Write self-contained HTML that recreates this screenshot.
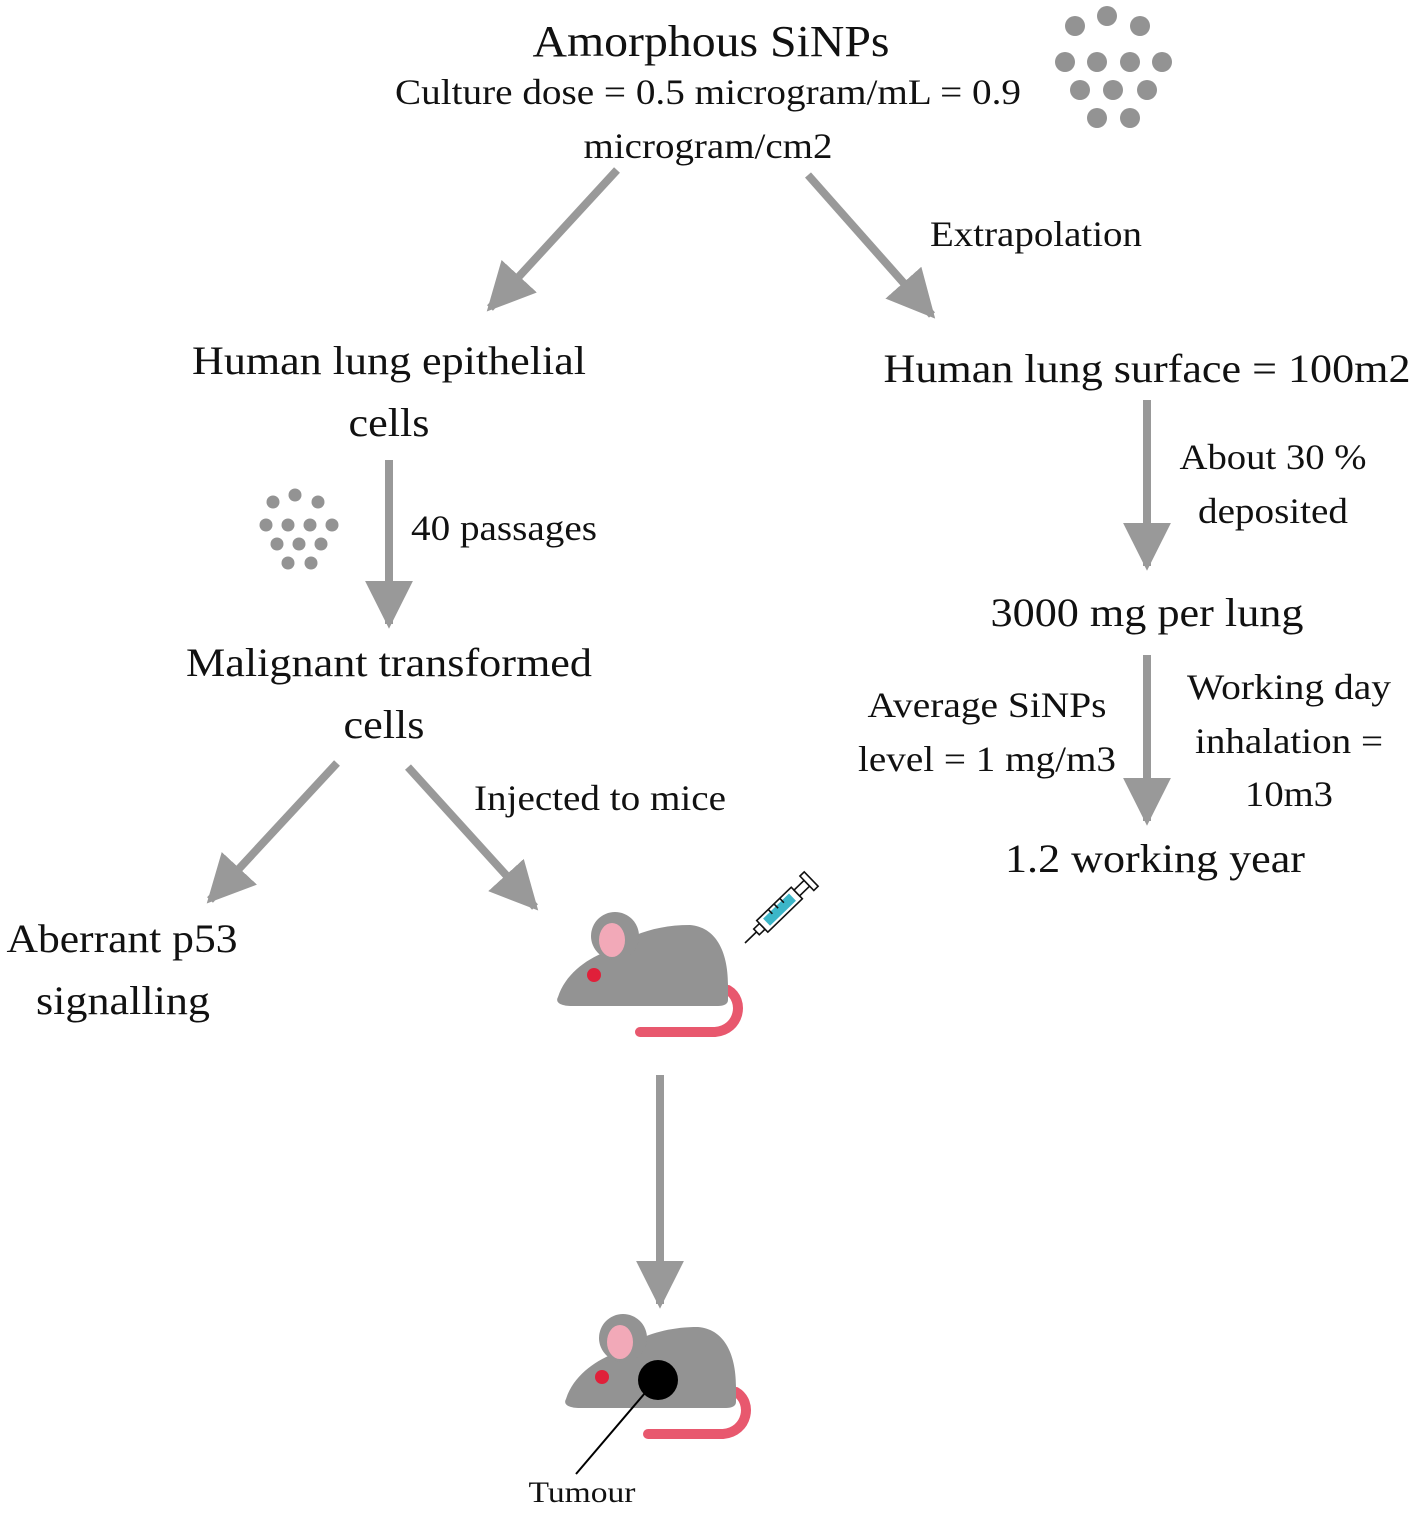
<!DOCTYPE html>
<html><head><meta charset="utf-8"><style>
html,body{margin:0;padding:0;background:#fff}
svg text{font-family:"Liberation Serif",serif;fill:#111}
</style></head><body>
<svg width="1417" height="1509" viewBox="0 0 1417 1509" xmlns="http://www.w3.org/2000/svg">
<defs>
<marker id="ah" viewBox="0 0 10 10" refX="9" refY="5" markerWidth="6" markerHeight="6" markerUnits="strokeWidth" orient="auto">
<path d="M0,0 L10,5 L0,10 z" fill="#999"/></marker>
<g id="mouse">
<path d="M728,990 C745,1000 740,1030 715,1032 L640,1032" fill="none" stroke="#e8586e" stroke-width="10" stroke-linecap="round"/>
<path d="M558,997 C565,975 585,960 605,952 C630,935 655,925 690,925 C715,927 728,950 728,985 L728,1000 C728,1004 724,1006 718,1006 L572,1006 C560,1006 555,1002 558,997 Z" fill="#939393"/>
<circle cx="615" cy="936" r="24" fill="#939393"/>
<ellipse cx="612" cy="940" rx="13" ry="17" fill="#f2a9b8"/>
<circle cx="594" cy="975" r="7" fill="#e0203a"/>
</g>
</defs>
<g text-anchor="middle" lengthAdjust="spacingAndGlyphs">
<text x="711" y="56" font-size="44" textLength="357" lengthAdjust="spacingAndGlyphs">Amorphous SiNPs</text>
<text x="708" y="104" font-size="36" textLength="626" lengthAdjust="spacingAndGlyphs">Culture dose = 0.5 microgram/mL = 0.9</text>
<text x="708" y="158" font-size="36" textLength="249" lengthAdjust="spacingAndGlyphs">microgram/cm2</text>
<text x="1036" y="246" font-size="36" textLength="212" lengthAdjust="spacingAndGlyphs">Extrapolation</text>
<text x="389" y="374" font-size="40" textLength="394" lengthAdjust="spacingAndGlyphs">Human lung epithelial</text>
<text x="389" y="436" font-size="40" textLength="81" lengthAdjust="spacingAndGlyphs">cells</text>
<text x="504" y="540" font-size="36" textLength="186" lengthAdjust="spacingAndGlyphs">40 passages</text>
<text x="389" y="676" font-size="40" textLength="406" lengthAdjust="spacingAndGlyphs">Malignant transformed</text>
<text x="384" y="738" font-size="40" textLength="81" lengthAdjust="spacingAndGlyphs">cells</text>
<text x="600" y="810" font-size="36" textLength="252" lengthAdjust="spacingAndGlyphs">Injected to mice</text>
<text x="122" y="952" font-size="40" textLength="231" lengthAdjust="spacingAndGlyphs">Aberrant p53</text>
<text x="123" y="1014" font-size="40" textLength="174" lengthAdjust="spacingAndGlyphs">signalling</text>
<text x="1147" y="382" font-size="40" textLength="527" lengthAdjust="spacingAndGlyphs">Human lung surface = 100m2</text>
<text x="1273" y="469" font-size="36" textLength="187" lengthAdjust="spacingAndGlyphs">About 30 %</text>
<text x="1273" y="523" font-size="36" textLength="150" lengthAdjust="spacingAndGlyphs">deposited</text>
<text x="1147" y="626" font-size="40" textLength="313" lengthAdjust="spacingAndGlyphs">3000 mg per lung</text>
<text x="987" y="717" font-size="36" textLength="239" lengthAdjust="spacingAndGlyphs">Average SiNPs</text>
<text x="987" y="771" font-size="36" textLength="258" lengthAdjust="spacingAndGlyphs">level = 1 mg/m3</text>
<text x="1289" y="699" font-size="36" textLength="204" lengthAdjust="spacingAndGlyphs">Working day</text>
<text x="1289" y="753" font-size="36" textLength="188" lengthAdjust="spacingAndGlyphs">inhalation =</text>
<text x="1289" y="806" font-size="36" textLength="88" lengthAdjust="spacingAndGlyphs">10m3</text>
<text x="1155" y="872" font-size="40" textLength="300" lengthAdjust="spacingAndGlyphs">1.2 working year</text>
<text x="582" y="1502" font-size="30" textLength="107" lengthAdjust="spacingAndGlyphs">Tumour</text>
</g>
<g stroke="#999" stroke-width="8" marker-end="url(#ah)">
<line x1="617" y1="170" x2="490" y2="308"/>
<line x1="808" y1="175" x2="932" y2="315"/>
<line x1="389" y1="460" x2="389" y2="624"/>
<line x1="1147" y1="400" x2="1147" y2="566"/>
<line x1="1147" y1="655" x2="1147" y2="821"/>
<line x1="337" y1="763" x2="210" y2="900"/>
<line x1="408" y1="767" x2="535" y2="907"/>
<line x1="660" y1="1075" x2="660" y2="1304"/>
</g>
<g fill="#939393">
<circle cx="1107" cy="16" r="10"/><circle cx="1075" cy="26" r="10"/><circle cx="1140" cy="26" r="10"/>
<circle cx="1065" cy="62" r="10"/><circle cx="1097" cy="62" r="10"/><circle cx="1130" cy="62" r="10"/><circle cx="1162" cy="62" r="10"/>
<circle cx="1080" cy="90" r="10"/><circle cx="1113" cy="90" r="10"/><circle cx="1147" cy="90" r="10"/>
<circle cx="1097" cy="118" r="10"/><circle cx="1130" cy="118" r="10"/>
<circle cx="273" cy="502" r="6.5"/><circle cx="295" cy="495" r="6.5"/><circle cx="318" cy="502" r="6.5"/>
<circle cx="266" cy="525" r="6.5"/><circle cx="288" cy="525" r="6.5"/><circle cx="310" cy="525" r="6.5"/><circle cx="332" cy="525" r="6.5"/>
<circle cx="277" cy="544" r="6.5"/><circle cx="299" cy="544" r="6.5"/><circle cx="321" cy="544" r="6.5"/>
<circle cx="288" cy="563" r="6.5"/><circle cx="311" cy="563" r="6.5"/>
</g>
<use href="#mouse"/>
<use href="#mouse" transform="translate(8,402)"/>
<circle cx="658" cy="1380" r="20" fill="#000"/>
<line x1="645" y1="1393" x2="576" y2="1474" stroke="#000" stroke-width="2"/>
<g transform="translate(745,943) rotate(-44)" stroke="#111" stroke-width="1.6" fill="none">
<line x1="0" y1="0" x2="16" y2="0"/>
<rect x="16" y="-4" width="8" height="8" fill="#fff"/>
<rect x="24" y="-8" width="48" height="16" fill="#fff"/>
<rect x="30" y="-5" width="36" height="10" fill="#3cb6c8" stroke="none"/>
<line x1="40" y1="-8" x2="40" y2="-2"/><line x1="48" y1="-8" x2="48" y2="-2"/><line x1="56" y1="-8" x2="56" y2="-2"/>
<rect x="72" y="-4" width="14" height="8" fill="#fff"/>
<rect x="86" y="-10" width="6" height="20" fill="#fff"/>
</g>
</svg>
</body></html>
